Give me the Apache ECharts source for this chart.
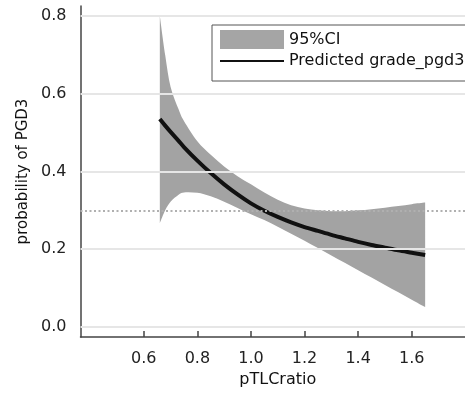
<!DOCTYPE html>
<html>
<head>
  <meta charset="utf-8">
  <title>probability of PGD3</title>
  <style>
    html, body { margin: 0; padding: 0; background: #fff; }
    #main { width: 465px; height: 396px; }
  </style>
</head>
<body>
<div id="main"></div>
<script src="https://cdn.jsdelivr.net/npm/echarts@6/dist/echarts.min.js"></script>
<script>
  // values
  var ratio = [0.66, 0.68, 0.70, 0.73, 0.75, 0.80, 0.85, 0.90, 0.95, 1.00, 1.05, 1.10,
               1.15, 1.20, 1.25, 1.30, 1.35, 1.40, 1.45, 1.50, 1.55, 1.60, 1.65];
  var predicted = [0.535, 0.518, 0.502, 0.479, 0.463, 0.428, 0.396, 0.367, 0.341, 0.318, 0.299, 0.283,
                   0.269, 0.257, 0.247, 0.237, 0.228, 0.219, 0.211, 0.204, 0.197, 0.191, 0.185];
  var ciUpper = [0.80, 0.70, 0.618, 0.56, 0.53, 0.478, 0.443, 0.413, 0.388, 0.367, 0.346, 0.327,
                 0.313, 0.305, 0.30, 0.298, 0.298, 0.30, 0.303, 0.307, 0.311, 0.316, 0.32];
  var ciLower = [0.267, 0.30, 0.322, 0.34, 0.346, 0.345, 0.336, 0.322, 0.306, 0.29, 0.275, 0.258,
                 0.24, 0.222, 0.203, 0.184, 0.165, 0.146, 0.127, 0.108, 0.089, 0.07, 0.051];
  var xTicks = [0.6, 0.8, 1.0, 1.2, 1.4, 1.6];
  var yTicks = [0.0, 0.2, 0.4, 0.6, 0.8];
  var refLine = 0.3;

  var font = 'DejaVu Sans';

  var predData = ratio.map(function (x, i) { return [x, predicted[i]]; });
  var gridLines = yTicks.map(function (v) { return { yAxis: v }; });

  // catmull-rom style bezier through pixel points
  function curveTo(pts) {
    var d = '';
    for (var i = 0; i < pts.length - 1; i++) {
      var p0 = pts[i - 1] || pts[i], p1 = pts[i], p2 = pts[i + 1], p3 = pts[i + 2] || pts[i + 1];
      var c1x = p1[0] + (p2[0] - p0[0]) / 6, c1y = p1[1] + (p2[1] - p0[1]) / 6;
      var c2x = p2[0] - (p3[0] - p1[0]) / 6, c2y = p2[1] - (p3[1] - p1[1]) / 6;
      d += ' C' + c1x + ' ' + c1y + ' ' + c2x + ' ' + c2y + ' ' + p2[0] + ' ' + p2[1];
    }
    return d;
  }

  function renderBand(params, api) {
    var up = ratio.map(function (x, i) { return api.coord([x, ciUpper[i]]); });
    var lo = ratio.map(function (x, i) { return api.coord([x, ciLower[i]]); }).reverse();
    var d = 'M' + up[0][0] + ' ' + up[0][1] + curveTo(up) +
            ' L' + lo[0][0] + ' ' + lo[0][1] + curveTo(lo) + ' Z';
    return {
      type: 'path',
      shape: { pathData: d },
      style: { fill: '#a3a3a3', stroke: null }
    };
  }

  var myChart = echarts.init(document.getElementById('main'));
  myChart.setOption({
    animation: false,
    grid: { left: 80.5, right: -10, top: 6, bottom: 59, outerBoundsMode: 'none' },
    legend: {
      orient: 'vertical',
      left: 212,
      top: 25,
      padding: [5, 200, 12, 7],
      itemGap: 4,
      itemWidth: 64,
      itemHeight: 19,
      backgroundColor: '#fff',
      borderColor: '#555',
      borderWidth: 1,
      textStyle: { fontFamily: font, fontSize: 16, color: '#111' },
      data: [
        { name: '95%CI', icon: 'rect', itemStyle: { color: '#a5a5a5' } },
        { name: 'Predicted grade_pgd3', itemStyle: { opacity: 0 } }
      ]
    },
    xAxis: {
      type: 'value',
      min: 0.364,
      max: 1.836,
      name: 'pTLCratio',
      nameLocation: 'middle',
      nameGap: 34,
      nameTextStyle: { fontFamily: font, fontSize: 16, color: '#111' },
      axisLine: { onZero: false, lineStyle: { color: '#444', width: 1.5 } },
      axisTick: { inside: true, length: 6, customValues: xTicks, lineStyle: { color: '#444', width: 1.5 } },
      axisLabel: {
        customValues: xTicks, margin: 14,
        fontFamily: font, fontSize: 16, color: '#222',
        formatter: function (v) { return v.toFixed(1); }
      },
      splitLine: { show: false }
    },
    yAxis: {
      type: 'value',
      min: -0.026,
      max: 0.826,
      name: 'probability of PGD3',
      nameLocation: 'middle',
      nameGap: 50,
      nameTextStyle: { fontFamily: font, fontSize: 15, color: '#111' },
      axisLine: { show: true, onZero: false, lineStyle: { color: '#444', width: 1.5 } },
      axisTick: { show: true, inside: true, length: 7, customValues: yTicks, lineStyle: { color: '#444', width: 1.5 } },
      axisLabel: {
        customValues: yTicks, margin: 14,
        fontFamily: font, fontSize: 16, color: '#222',
        formatter: function (v) { return v.toFixed(1); }
      },
      splitLine: { show: false }
    },
    series: [
      {
        name: 'grid',
        type: 'line',
        data: [],
        silent: true,
        markLine: {
          silent: true,
          symbol: 'none',
          label: { show: false },
          lineStyle: { color: '#e6e6e6', width: 2, type: 'solid' },
          data: gridLines
        }
      },
      {
        name: '95%CI',
        type: 'custom',
        renderItem: renderBand,
        data: [[ratio[0], ciUpper[0]]],
        itemStyle: { color: '#a5a5a5' },
        silent: true,
        z: 2
      },
      {
        name: 'ref',
        type: 'line',
        data: [],
        silent: true,
        z: 3,
        markLine: {
          silent: true,
          symbol: 'none',
          label: { show: false },
          lineStyle: { color: '#b0b0b0', width: 2, type: [2, 2.5] },
          data: [{ yAxis: refLine }]
        }
      },
      {
        name: 'Predicted grade_pgd3',
        type: 'line',
        data: predData,
        smooth: 0.3,
        symbol: 'none',
        itemStyle: { color: '#111' },
        lineStyle: { color: '#111', width: 4 },
        z: 4
      }
    ]
  });
</script>
</body>
</html>
